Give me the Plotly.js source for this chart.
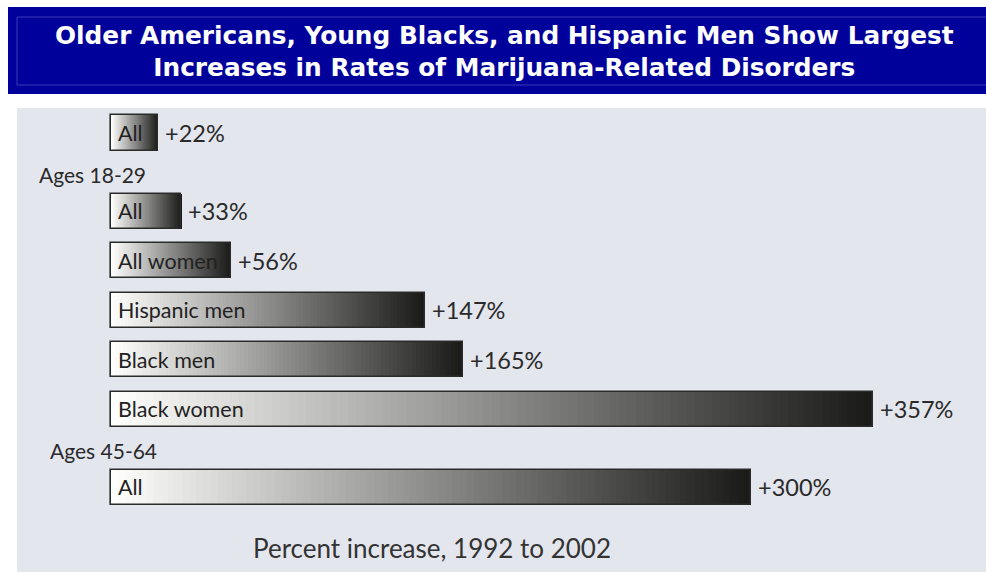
<!DOCTYPE html>
<html>
<head>
<meta charset="utf-8">
<script src="https://cdn.plot.ly/plotly-3.0.1.min.js"></script>
<style>
html,body{margin:0;padding:0;background:#fff;}
#chart{width:986px;height:573px;}
</style>
</head>
<body>
<div id="chart"></div>
<script>
// ---- data ----
const categories = ["All", "All", "All women", "Hispanic men", "Black men", "Black women", "All"];
const groupIndex = [0, 1, 1, 1, 1, 1, 2];
const values = [22, 33, 56, 147, 165, 357, 300];
const valueLabels = ["+22%", "+33%", "+56%", "+147%", "+165%", "+357%", "+300%"];
const groupLabels = ["Ages 18-29", "Ages 45-64"];
const titleText = "Older Americans, Young Blacks, and Hispanic Men Show Largest<br>Increases in Rates of Marijuana-Related Disorders";
const xTitle = "Percent increase, 1992 to 2002";

// ---- layout helpers ----
const GROUP_GAP = 0.58;
const pos = categories.map((c, i) => i + GROUP_GAP * groupIndex[i]);
const BAR_W = 0.71;
const N = 90;
const labelFont = "Lato, 'Open Sans', sans-serif";

function shade(t) {
  const g = Math.round(255 - 230 * t);
  return `rgb(${g},${g},${Math.max(g - 2, 0)})`;
}

const traces = [];
for (let k = 0; k < N; k++) {
  const f = k / N;
  traces.push({
    type: "bar",
    orientation: "h",
    y: pos,
    base: values.map(v => v * f),
    x: values.map(v => v * (1 - f)),
    width: BAR_W,
    marker: { color: shade((k + 0.5) / N), line: { width: 0 } },
    hoverinfo: "skip",
    showlegend: false
  });
}
// outline
traces.push({
  type: "bar",
  orientation: "h",
  y: pos,
  base: values.map(() => 0),
  x: values,
  width: BAR_W,
  marker: { color: "rgba(0,0,0,0)", line: { color: "#2a2a2a", width: 1.6 } },
  text: categories,
  hovertemplate: "%{text}: %{x}%<extra></extra>",
  textposition: "none",
  showlegend: false
});

const annotations = [];
categories.forEach((c, i) => {
  annotations.push({
    x: 0, y: pos[i], xref: "x", yref: "y", text: c, showarrow: false,
    xanchor: "left", yanchor: "middle", xshift: 5, yshift: 0,
    font: { family: labelFont, size: 21.5, color: "#222" }
  });
  annotations.push({
    x: values[i], y: pos[i], xref: "x", yref: "y", text: valueLabels[i], showarrow: false,
    xanchor: "left", yanchor: "middle", xshift: 5,
    font: { family: labelFont, size: 23.5, color: "#2a2a2a" }
  });
});
// group labels
const groupX = [-34.7, -29.5];
groupLabels.forEach((g, j) => {
  const first = groupIndex.indexOf(j + 1);
  annotations.push({
    x: groupX[j], y: pos[first] - 0.74, xref: "x", yref: "y", text: g, showarrow: false,
    xanchor: "left", yanchor: "middle",
    font: { family: labelFont, size: 21, color: "#2a2a2a" }
  });
});
// x title
annotations.push({
  x: 0.4283, y: 0.052, xref: "paper", yref: "paper", text: xTitle, showarrow: false,
  xanchor: "center", yanchor: "middle",
  font: { family: labelFont, size: 26, color: "#333" }
});
// chart title in banner
annotations.push({
  x: 0.5036, y: 1.1207, xref: "paper", yref: "paper", text: titleText, showarrow: false,
  xanchor: "center", yanchor: "middle", align: "center",
  font: { family: "'DejaVu Sans', Verdana, sans-serif", size: 24.8, color: "#ffffff", weight: "bold" }
});

// paper coordinate helpers for banner (plot area: x 17..986, y 108..572)
const px = p => (p - 17) / 969;
const py = p => (572 - p) / 464;

const layout = {
  width: 986, height: 573,
  margin: { l: 17, r: 0, t: 108, b: 1, pad: 0 },
  paper_bgcolor: "#ffffff",
  plot_bgcolor: "#e4e6ee",
  barmode: "overlay",
  bargap: 0,
  xaxis: { range: [-44.05, 410.03], visible: false, fixedrange: true },
  yaxis: { range: [8.869, -0.505], visible: false, fixedrange: true },
  showlegend: false,
  annotations: annotations,
  shapes: [
    { type: "rect", xref: "paper", yref: "paper", x0: px(8), x1: px(986), y0: py(94), y1: py(7),
      fillcolor: "#00009a", line: { width: 0 }, layer: "below" },
    { type: "line", xref: "paper", yref: "paper", x0: px(17), x1: px(986), y0: py(17), y1: py(17),
      line: { color: "#3a3ab8", width: 1 } },
    { type: "line", xref: "paper", yref: "paper", x0: px(17), x1: px(986), y0: py(85), y1: py(85),
      line: { color: "#3a3ab8", width: 1 } },
    { type: "line", xref: "paper", yref: "paper", x0: px(17), x1: px(17), y0: py(85), y1: py(17),
      line: { color: "#3a3ab8", width: 1 } }
  ]
};

Plotly.newPlot("chart", traces, layout, { displayModeBar: false, staticPlot: false });
</script>
</body>
</html>
